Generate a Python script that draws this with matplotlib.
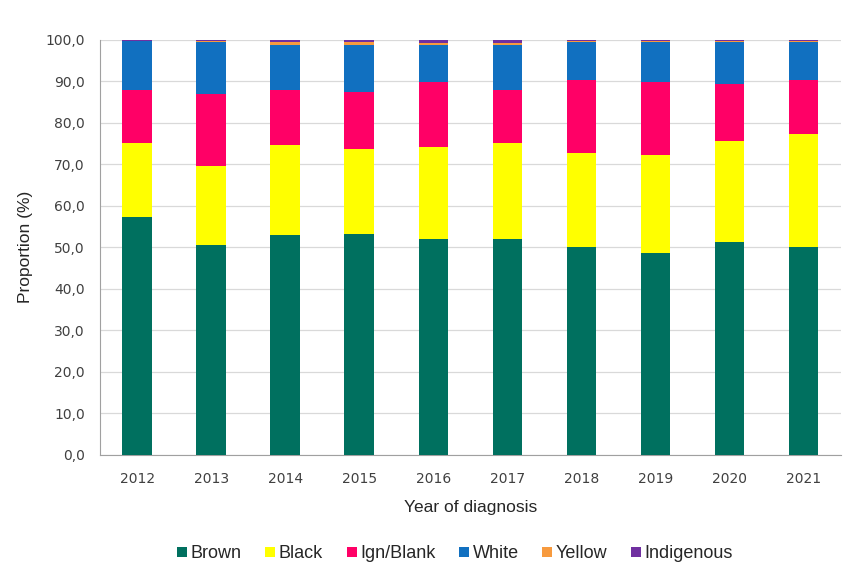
import numpy as np
import matplotlib.pyplot as plt

# Годы и доли (%) по расе/цвету кожи
years = ['2012', '2013', '2014', '2015', '2016', '2017', '2018', '2019', '2020', '2021']
brown = [57.2, 50.5, 52.9, 53.3, 52.1, 52.1, 50.1, 48.5, 51.3, 50.1]
black = [18.0, 19.0, 21.7, 20.3, 22.1, 22.9, 22.5, 23.7, 24.3, 27.1]
ign_blank = [12.6, 17.5, 13.2, 13.8, 15.6, 12.8, 17.6, 17.6, 13.8, 13.0]
white = [11.8, 12.4, 10.9, 11.3, 8.9, 10.9, 9.2, 9.6, 10.0, 9.2]
yellow = [0.1, 0.2, 0.8, 0.7, 0.5, 0.5, 0.2, 0.2, 0.2, 0.2]
indigenous = [0.3, 0.4, 0.5, 0.6, 0.8, 0.8, 0.4, 0.4, 0.4, 0.4]

series = [
    ('Brown', brown, '#00705F'),
    ('Black', black, '#FFFF00'),
    ('Ign/Blank', ign_blank, '#FF0066'),
    ('White', white, '#1170C0'),
    ('Yellow', yellow, '#F79A3E'),
    ('Indigenous', indigenous, '#7030A0'),
]

fig = plt.figure(figsize=(8.49, 5.83), dpi=100)
ax = fig.add_axes([0.118, 0.2196, 0.872, 0.7126])

x = np.arange(len(years))
bottom = np.zeros(len(years))
for name, vals, color in series:
    ax.bar(x, vals, width=0.40, bottom=bottom, color=color, label=name, zorder=3)
    bottom += np.array(vals)

ax.set_xlim(-0.5, len(years) - 0.5)
ax.set_ylim(0, 100)
ax.set_yticks(np.arange(0, 101, 10))
ax.set_yticklabels([f'{v:.1f}'.replace('.', ',') for v in range(0, 101, 10)])
ax.set_xticks(x)
ax.set_xticklabels(years)
ax.tick_params(length=0, labelsize=10, colors='#404040')
ax.tick_params(axis='x', pad=12)
ax.tick_params(axis='y', pad=11)

ax.grid(axis='y', color='#D9D9D9', linewidth=0.9, zorder=0)
for side in ['top', 'right']:
    ax.spines[side].set_visible(False)
ax.spines['left'].set_color('#A0A0A0')
ax.spines['bottom'].set_color('#A0A0A0')

ax.set_xlabel('Year of diagnosis', fontsize=12.5, family='Liberation Sans', color='#262626', labelpad=10)
ax.set_ylabel('Proportion (%)', fontsize=12.5, family='Liberation Sans', color='#262626', labelpad=9)

leg = fig.legend(loc='center', bbox_to_anchor=(0.536, 0.050), ncol=6, frameon=False,
                 handlelength=0.55, handleheight=0.55, handletextpad=0.2, columnspacing=1.3,
                 prop={'family': 'Liberation Sans', 'size': 13})
for t in leg.get_texts():
    t.set_color('#262626')

plt.savefig('out.png', dpi=100)
